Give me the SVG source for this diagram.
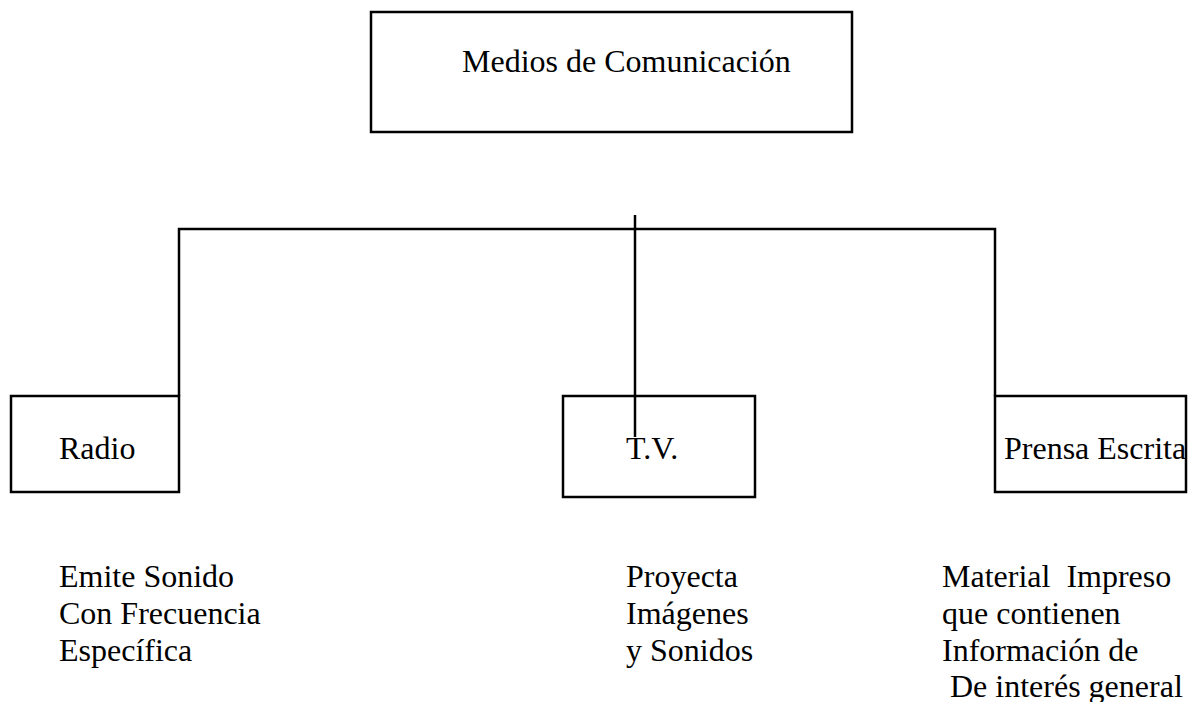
<svg xmlns="http://www.w3.org/2000/svg" width="1188" height="702" viewBox="0 0 1188 702">
<style>
.box{fill:#fff;stroke:#000;stroke-width:2.5}
.ln{fill:none;stroke:#000;stroke-width:2.5}
.t{font-size:32px;fill:#000}
</style>
<rect width="1188" height="702" fill="#fff"/>
<g font-family="'Liberation Serif', 'Times New Roman', Times, serif">
<g id="node-medios"><rect class="box" x="371" y="12" width="481" height="120"/><text class="t" x="462" y="72">Medios de Comunicación</text></g>
<g id="node-radio"><rect class="box" x="11" y="396" width="168" height="96"/><text class="t" x="59" y="459">Radio</text></g>
<g id="node-tv"><rect class="box" x="563" y="396" width="192" height="101"/><text class="t" x="626" y="459">T.V.</text></g>
<g id="node-prensa"><rect class="box" x="995" y="396" width="191" height="96"/><text class="t" x="1004" y="459">Prensa Escrita</text></g>
<g id="connectors">
<path class="ln" d="M179 396 V229 H995 V396"/>
<path class="ln" d="M635 215 V437"/>
</g>
<g id="desc-radio"><text class="t" x="59" y="587">Emite Sonido</text><text class="t" x="59" y="624">Con Frecuencia</text><text class="t" x="59" y="661">Específica</text></g>
<g id="desc-tv"><text class="t" x="626" y="587">Proyecta</text><text class="t" x="626" y="624">Imágenes</text><text class="t" x="626" y="661">y Sonidos</text></g>
<g id="desc-prensa"><text class="t" x="942" y="587" xml:space="preserve">Material  Impreso</text><text class="t" x="942" y="624">que contienen</text><text class="t" x="942" y="661">Información de</text><text class="t" x="950" y="697">De interés general</text></g>
</g>
</svg>
